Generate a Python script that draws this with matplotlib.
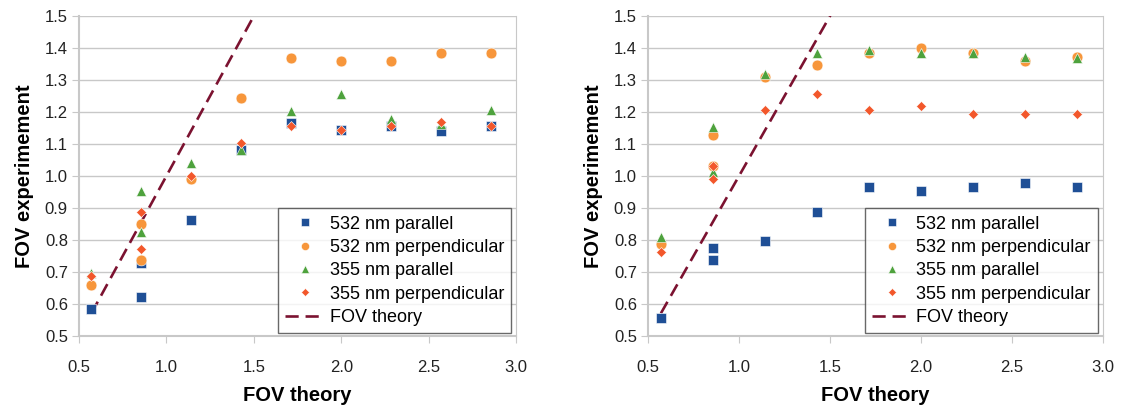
import numpy as np
import matplotlib.pyplot as plt

plt.rcParams['font.family'] = ['Liberation Sans', 'DejaVu Sans']

# x positions (FOV theory), 0.857 appears twice
fov_x = [0.571, 0.857, 0.857, 1.143, 1.429, 1.714, 2.0, 2.286, 2.571, 2.857]

# left panel
left_532_par = [0.585, 0.622, 0.727, 0.863, 1.08, 1.167, 1.143, 1.155, 1.142, 1.157]
left_532_perp = [0.66, 0.85, 0.737, 0.99, 1.243, 1.37, 1.358, 1.358, 1.384, 1.384]
left_355_par = [0.698, 0.953, 0.825, 1.04, 1.08, 1.204, 1.255, 1.178, 1.163, 1.205]
left_355_perp = [0.686, 0.888, 0.773, 1.0, 1.104, 1.156, 1.143, 1.157, 1.168, 1.155]

# right panel
right_532_par = [0.557, 0.775, 0.736, 0.798, 0.888, 0.966, 0.952, 0.966, 0.978, 0.966]
right_532_perp = [0.786, 1.128, 1.03, 1.309, 1.348, 1.385, 1.399, 1.385, 1.36, 1.372]
right_355_par = [0.81, 1.154, 1.012, 1.32, 1.384, 1.395, 1.384, 1.384, 1.371, 1.37]
right_355_perp = [0.761, 0.99, 1.03, 1.206, 1.257, 1.206, 1.219, 1.194, 1.194, 1.194]

theory_x = [0.571, 1.714]
theory_y = [0.571, 1.714]

labels = ['532 nm parallel', '532 nm perpendicular', '355 nm parallel',
          '355 nm perpendicular', 'FOV theory']
colors = ['#1F4F96', '#F7963B', '#4EA23D', '#F2572B']
markers = ['s', 'o', '^', 'D']
msizes = [7.2, 7.8, 7.8, 5.6]

fig = plt.figure(figsize=(11.21, 4.07), dpi=100)
ax1 = fig.add_axes([79/1121, 71/407, 437/1121, 320/407])
ax2 = fig.add_axes([648/1121, 71/407, 455/1121, 320/407])

panels = [
    (ax1, [left_532_par, left_532_perp, left_355_par, left_355_perp]),
    (ax2, [right_532_par, right_532_perp, right_355_par, right_355_perp]),
]

for ax, series in panels:
    for vals, c, m, ms, lab in zip(series, colors, markers, msizes, labels):
        ax.plot(fov_x, vals, linestyle='none', marker=m, color=c, markersize=ms,
                markeredgecolor='white', markeredgewidth=0.4, label=lab, zorder=3)
    ax.plot(theory_x, theory_y, color='#7B1230', linewidth=1.9,
            dashes=(5, 2.6), label=labels[4], zorder=2)

    ax.set_xlim(0.5, 3.0)
    ax.set_ylim(0.5, 1.5)
    ax.set_xticks(np.arange(0.5, 3.01, 0.5))
    ax.set_yticks(np.arange(0.5, 1.51, 0.1))
    ax.xaxis.set_major_formatter(plt.FormatStrFormatter('%.1f'))
    ax.yaxis.set_major_formatter(plt.FormatStrFormatter('%.1f'))
    ax.grid(axis='y', color='#C8C8C8', linewidth=1)
    ax.set_axisbelow(True)
    for s in ax.spines.values():
        s.set_color('#C8C8C8')
    ax.spines['left'].set_linewidth(1.5)
    ax.spines['bottom'].set_linewidth(1.5)
    ax.spines['top'].set_visible(False)
    ax.tick_params(direction='out', length=5, color='#C8C8C8', labelsize=12,
                   labelcolor='#222222', pad=3)
    ax.tick_params(axis='x', pad=12)
    ax.set_xlabel('FOV theory', fontsize=14.5, fontweight='bold', labelpad=8)
    ax.set_ylabel('FOV experimement', fontsize=14.5, fontweight='bold', labelpad=8)

    leg = ax.legend(loc='lower right', bbox_to_anchor=(0.989, 0.009), fontsize=13,
                    frameon=True, fancybox=False, borderpad=0.4, labelspacing=0.35,
                    handlelength=2.2, handletextpad=0.25, borderaxespad=0,
                    markerscale=0.75)
    leg.get_frame().set_edgecolor('#444444')
    leg.get_frame().set_linewidth(1)

fig.savefig('out.png', dpi=100)
